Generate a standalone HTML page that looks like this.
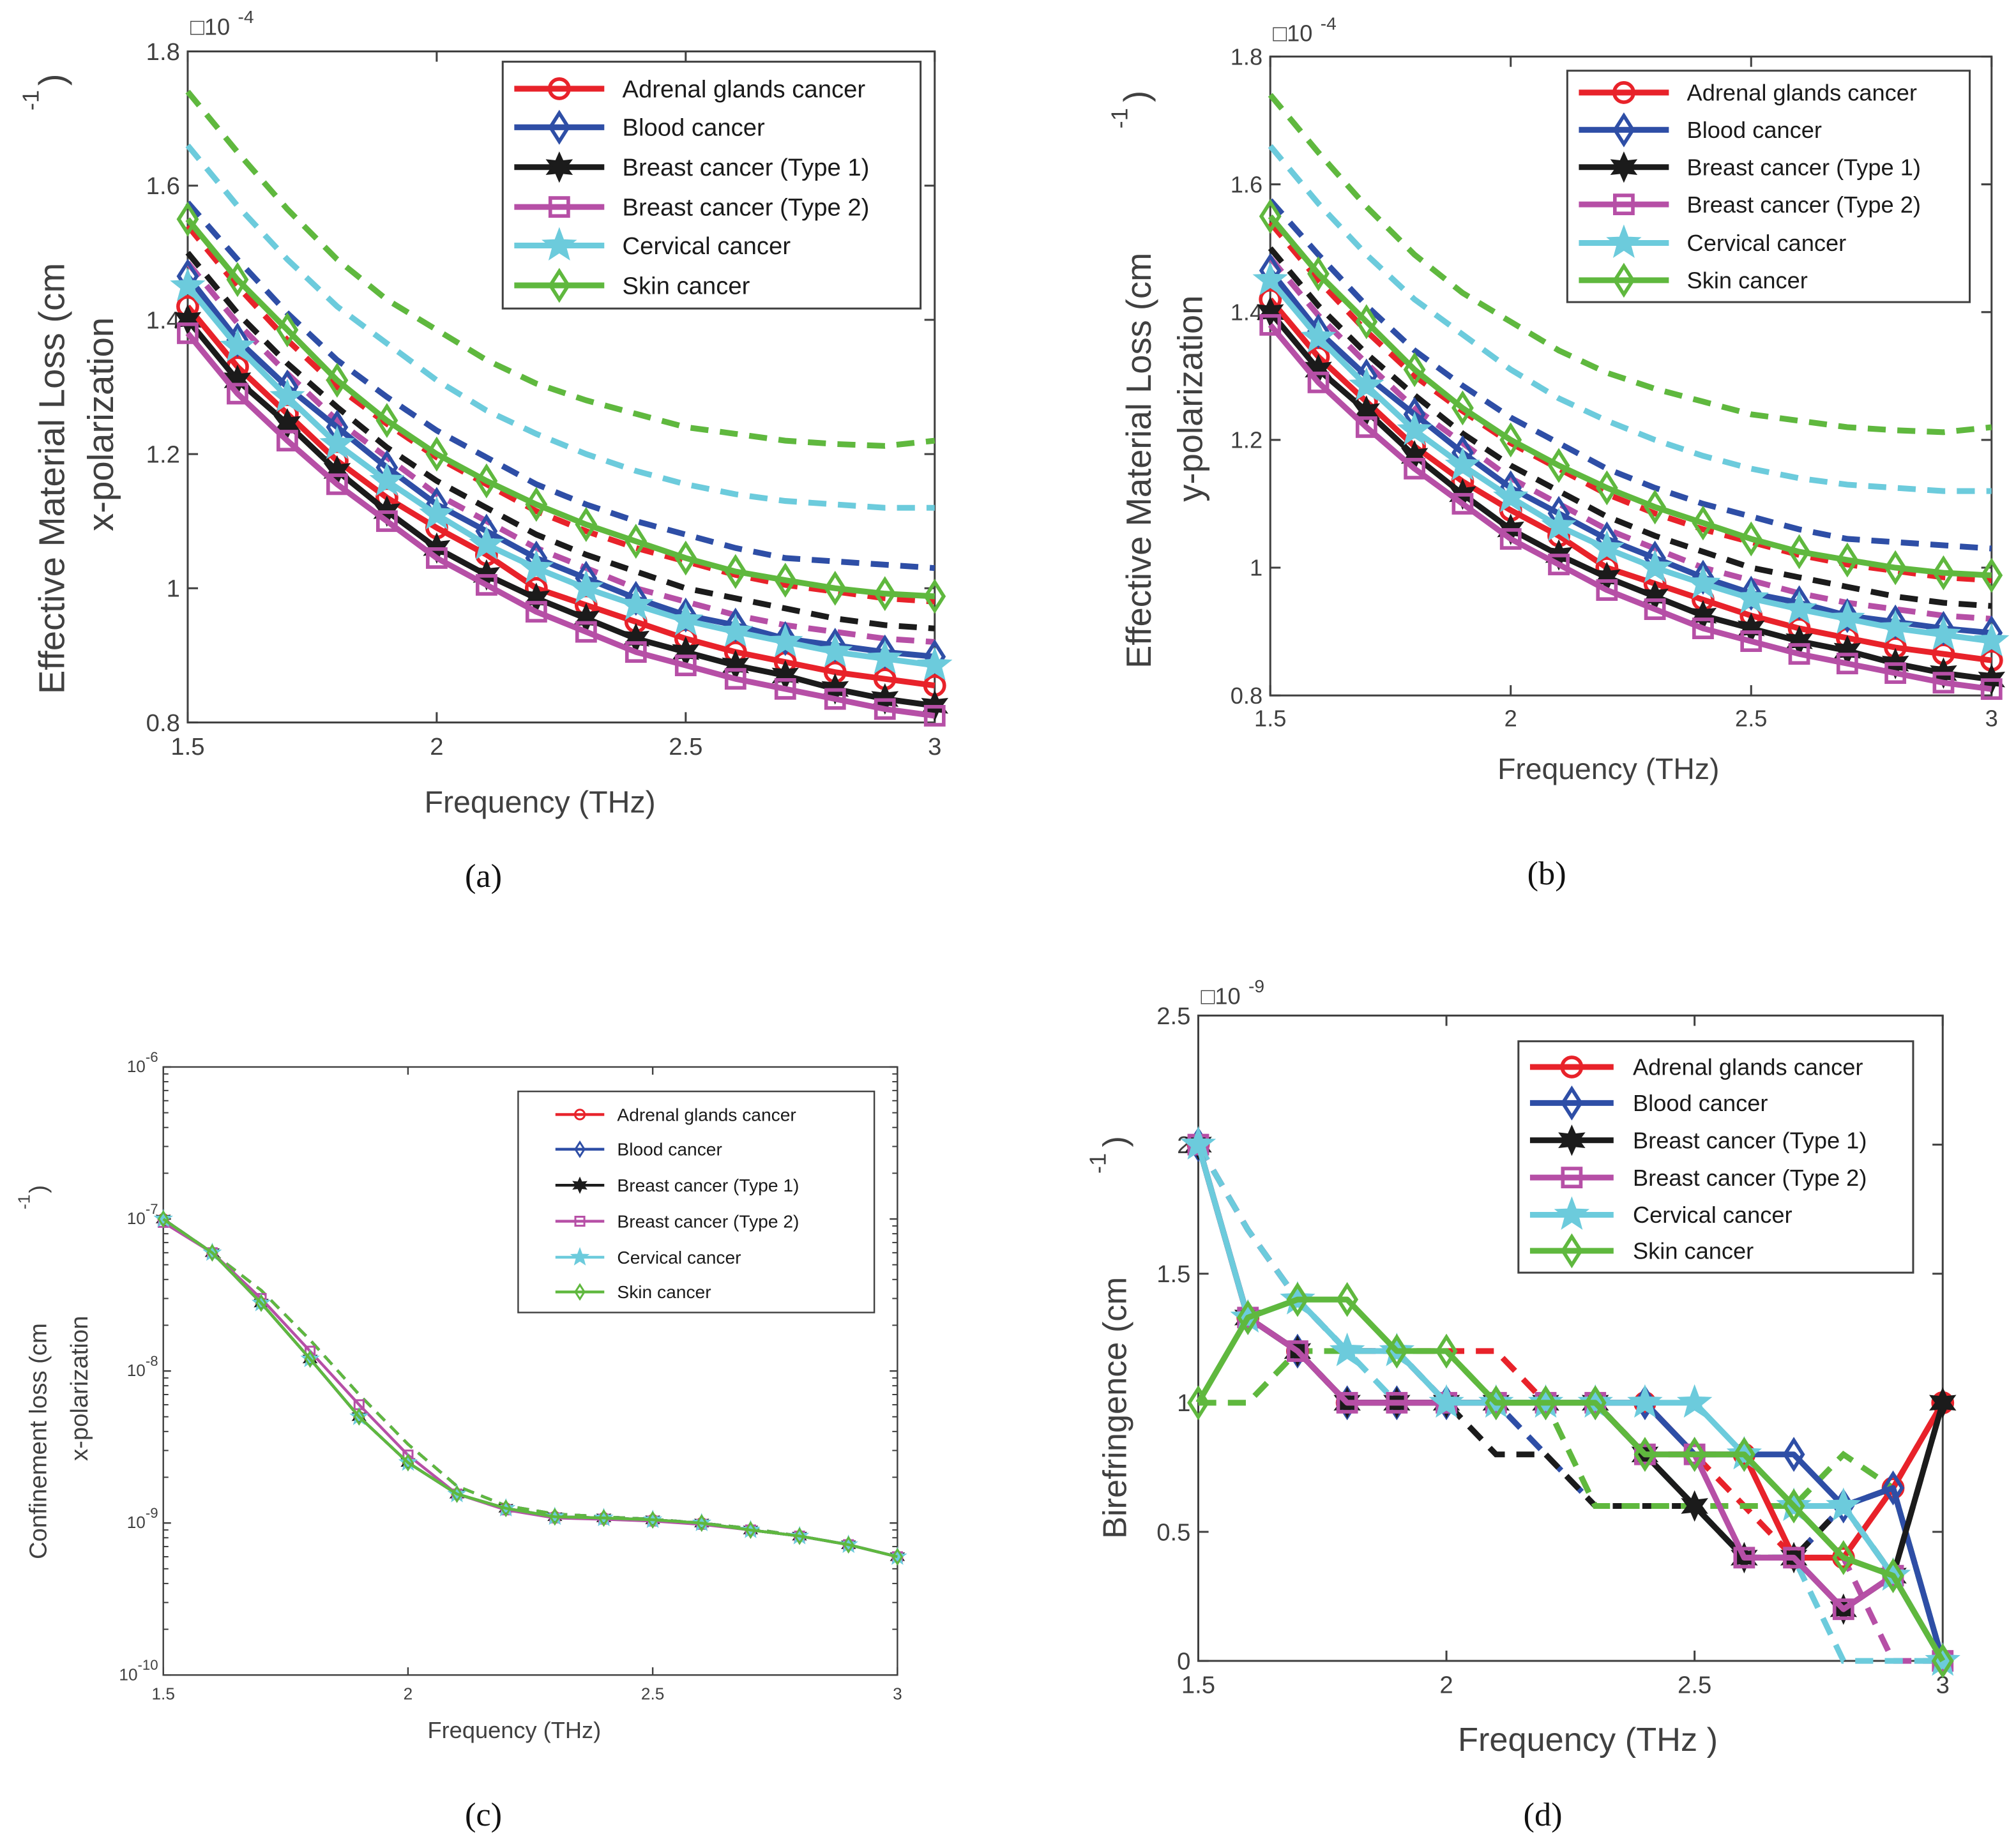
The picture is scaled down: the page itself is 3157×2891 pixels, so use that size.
<!DOCTYPE html>
<html><head><meta charset="utf-8"><style>
html,body{margin:0;padding:0;background:#fff;}
svg{display:block;}
text{font-family:"Liberation Sans",sans-serif;fill:#404040;}
</style></head><body>
<svg id="fig" width="3157" height="2891" viewBox="0 0 1568 1436" preserveAspectRatio="none" xmlns="http://www.w3.org/2000/svg"></svg>
<script>
const freqs=[1.5,1.6,1.7,1.8,1.9,2.0,2.1,2.2,2.3,2.4,2.5,2.6,2.7,2.8,2.9,3.0];
const seriesNames=["Adrenal glands cancer","Blood cancer","Breast cancer (Type 1)","Breast cancer (Type 2)","Cervical cancer","Skin cancer"];
const lossAdrenalSolid=[1.42,1.33,1.26,1.19,1.135,1.09,1.05,1.0,0.975,0.95,0.925,0.905,0.89,0.875,0.865,0.855];
const lossBloodSolid=[1.465,1.37,1.30,1.24,1.18,1.125,1.085,1.045,1.015,0.985,0.96,0.945,0.925,0.915,0.905,0.898];
const lossBreast1Solid=[1.40,1.31,1.245,1.175,1.115,1.06,1.02,0.985,0.955,0.925,0.905,0.885,0.87,0.85,0.835,0.825];
const lossBreast2Solid=[1.38,1.29,1.22,1.155,1.10,1.045,1.005,0.965,0.935,0.905,0.885,0.865,0.85,0.835,0.82,0.81];
const lossCervicalSolid=[1.45,1.36,1.285,1.215,1.16,1.11,1.065,1.03,1.0,0.975,0.952,0.935,0.92,0.905,0.895,0.885];
const lossSkinSolid=[1.55,1.46,1.385,1.31,1.25,1.20,1.16,1.125,1.095,1.07,1.045,1.025,1.012,1.0,0.992,0.988];
const lossAdrenalDash=[1.54,1.45,1.37,1.30,1.245,1.195,1.155,1.115,1.085,1.06,1.04,1.02,1.005,0.995,0.985,0.98];
const lossBloodDash=[1.575,1.49,1.41,1.34,1.285,1.235,1.195,1.155,1.125,1.10,1.08,1.06,1.045,1.04,1.035,1.03];
const lossBreast1Dash=[1.50,1.41,1.335,1.27,1.21,1.16,1.12,1.08,1.05,1.025,1.0,0.985,0.97,0.955,0.945,0.94];
const lossBreast2Dash=[1.485,1.395,1.32,1.25,1.195,1.14,1.1,1.06,1.03,1.0,0.98,0.96,0.945,0.935,0.925,0.92];
const lossCervicalDash=[1.66,1.57,1.49,1.42,1.365,1.31,1.265,1.23,1.2,1.175,1.155,1.14,1.13,1.125,1.12,1.12];
const lossSkinDash=[1.74,1.65,1.565,1.49,1.43,1.385,1.34,1.305,1.28,1.26,1.24,1.23,1.22,1.215,1.212,1.22];
const confSolid=[1e-7,6e-8,2.8e-8,1.2e-8,5e-9,2.5e-9,1.55e-9,1.25e-9,1.1e-9,1.08e-9,1.05e-9,1.0e-9,9e-10,8.2e-10,7.2e-10,6e-10];
const confSolidB2=[9.5e-8,6e-8,3.0e-8,1.35e-8,6e-9,2.8e-9,1.55e-9,1.22e-9,1.08e-9,1.06e-9,1.03e-9,0.98e-9,9e-10,8.2e-10,7.2e-10,6e-10];
const confDash=[1e-7,6e-8,3.4e-8,1.6e-8,7e-9,3.3e-9,1.75e-9,1.3e-9,1.15e-9,1.1e-9,1.06e-9,1.0e-9,9.2e-10,8.2e-10,7.2e-10,6e-10];
const birAdrenalSolid=[2,1.33,1.2,1.0,1.0,1.0,1.0,1.0,1.0,1.0,0.8,0.8,0.4,0.4,0.67,1.0];
const birBloodSolid=[2,1.33,1.2,1.0,1.0,1.0,1.0,1.0,1.0,1.0,0.8,0.8,0.8,0.6,0.67,0];
const birBreast1Solid=[2,1.33,1.2,1.0,1.0,1.0,1.0,1.0,1.0,0.8,0.6,0.4,0.4,0.2,0.33,1.0];
const birBreast2Solid=[2,1.33,1.2,1.0,1.0,1.0,1.0,1.0,1.0,0.8,0.8,0.4,0.4,0.2,0.33,0];
const birCervicalSolid=[2,1.33,1.4,1.2,1.2,1.0,1.0,1.0,1.0,1.0,1.0,0.8,0.6,0.6,0.33,0];
const birSkinSolid=[1.0,1.33,1.4,1.4,1.2,1.2,1.0,1.0,1.0,0.8,0.8,0.8,0.6,0.4,0.33,0];
const birAdrenalDash=[2,1.67,1.4,1.2,1.2,1.2,1.2,1.0,1.0,0.8,0.8,0.6,0.4,0.6,0.67,1.0];
const birBloodDash=[2,1.67,1.4,1.2,1.2,1.0,1.0,0.8,0.6,0.6,0.6,0.4,0.4,0.6,0.67,0];
const birBreast1Dash=[2,1.33,1.2,1.0,1.0,1.0,0.8,0.8,0.6,0.6,0.6,0.4,0.4,0.6,0.33,1.0];
const birBreast2Dash=[2,1.67,1.4,1.2,1.2,1.0,1.0,1.0,1.0,0.8,0.8,0.8,0.4,0.4,0,0];
const birCervicalDash=[2,1.67,1.4,1.2,1.0,1.0,1.0,1.0,1.0,0.8,0.6,0.4,0.4,0,0,0];
const birSkinDash=[1.0,1.0,1.2,1.2,1.2,1.2,1.0,1.0,0.6,0.6,0.6,0.6,0.6,0.8,0.67,0];

const colors=["#e8222a","#2e4ea6","#1b1b1b","#b64fa6","#6ccbdc","#5fb83e"];
const markers=["circle","diamond","hex","square","pent","diamond"];
const svg=document.getElementById('fig');
const NS="http://www.w3.org/2000/svg";
function el(tag,attrs,parent){const e=document.createElementNS(NS,tag);for(const k in attrs)e.setAttribute(k,attrs[k]);(parent||svg).appendChild(e);return e;}
function txt(x,y,s,size,opts,parent){const t=el('text',Object.assign({x:x,y:y,'font-size':size},opts||{}),parent);t.textContent=s;return t;}
function starPts(cx,cy,n,ro,ri){let p=[];for(let i=0;i<2*n;i++){const a=-Math.PI/2+i*Math.PI/n;const r=i%2?ri:ro;p.push((cx+r*Math.cos(a)).toFixed(1)+','+(cy+r*Math.sin(a)).toFixed(1));}return p.join(' ');}
function marker(g,type,x,y,s,c,sw){
  let m;
  if(type==='circle')m=el('circle',{cx:x,cy:y,r:s*0.75,fill:'none',stroke:c,'stroke-width':sw},g);
  else if(type==='diamond')m=el('polygon',{points:`${x},${y-s*1.1} ${x+s*0.7},${y} ${x},${y+s*1.1} ${x-s*0.7},${y}`,fill:'none',stroke:c,'stroke-width':sw},g);
  else if(type==='square')m=el('rect',{x:x-s*0.7,y:y-s*0.7,width:s*1.4,height:s*1.4,fill:'none',stroke:c,'stroke-width':sw},g);
  else if(type==='hex')m=el('polygon',{points:starPts(x,y,6,s*1.1,s*0.55),fill:c,stroke:c,'stroke-width':1},g);
  else m=el('polygon',{points:starPts(x,y,5,s*1.3,s*0.55),fill:c,stroke:c,'stroke-width':1},g);
  
  
}
function panel(cfg){
  const g=el('g',{});
  const X=v=>cfg.x0+(v-1.5)/(1.5)*(cfg.x1-cfg.x0);
  const Y=cfg.log?(v=>cfg.y1-(Math.log10(v)-cfg.ymin)/(cfg.ymax-cfg.ymin)*(cfg.y1-cfg.y0)):(v=>cfg.y1-(v-cfg.ymin)/(cfg.ymax-cfg.ymin)*(cfg.y1-cfg.y0));
  const clip='clip-'+cfg.name;
  const cp=el('clipPath',{id:clip},g);el('rect',{x:cfg.x0-20,y:cfg.y0-20,width:cfg.x1-cfg.x0+40,height:cfg.y1-cfg.y0+40},cp);
  const axes=el('g',{},g);
  el('rect',{x:cfg.x0,y:cfg.y0,width:cfg.x1-cfg.x0,height:cfg.y1-cfg.y0,fill:'none',stroke:'#404040','stroke-width':cfg.axw},axes);
  [1.5,2,2.5,3].forEach(v=>{const x=X(v);
    el('line',{x1:x,y1:cfg.y1,x2:x,y2:cfg.y1-cfg.tl,stroke:'#404040','stroke-width':cfg.axw},axes);
    el('line',{x1:x,y1:cfg.y0,x2:x,y2:cfg.y0+cfg.tl,stroke:'#404040','stroke-width':cfg.axw},axes);
    const t=txt(x,cfg.y1+cfg.tfs+6,String(v),cfg.tfs,{'text-anchor':'middle'},axes);
    
    
  });
  cfg.yticks.forEach((v,i)=>{const y=cfg.log?Y(Math.pow(10,v)):Y(v);
    el('line',{x1:cfg.x0,y1:y,x2:cfg.x0+cfg.tl,y2:y,stroke:'#404040','stroke-width':cfg.axw},axes);
    el('line',{x1:cfg.x1,y1:y,x2:cfg.x1-cfg.tl,y2:y,stroke:'#404040','stroke-width':cfg.axw},axes);
    let t;
    if(cfg.log){t=txt(cfg.x0-6,y+4,'10',cfg.tfs,{'text-anchor':'end'},axes);const s=el('tspan',{dy:-8,'font-size':cfg.tfs*0.85},t);s.textContent=String(v);t.setAttribute('text-anchor','end');t.setAttribute('x',cfg.x0-4);}
    else t=txt(cfg.x0-6,y+cfg.tfs*0.35,cfg.ylabels[i],cfg.tfs,{'text-anchor':'end'},axes);
    
    
  });
  if(cfg.log){for(let d=-10;d<-6;d++){for(let k=2;k<10;k++){const y=Y(k*Math.pow(10,d));
    el('line',{x1:cfg.x0,y1:y,x2:cfg.x0+4,y2:y,stroke:'#404040','stroke-width':1},axes);
    el('line',{x1:cfg.x1,y1:y,x2:cfg.x1-4,y2:y,stroke:'#404040','stroke-width':1},axes);}}}
  const plot=el('g',{'clip-path':`url(#${clip})`,},g);
  cfg.dash.forEach((arr,i)=>{const d=arr.map((v,j)=>(j?'L':'M')+X(freqs[j]).toFixed(1)+','+Y(v).toFixed(1)).join(' ');
    const p=el('path',{d:d,fill:'none',stroke:colors[i],'stroke-width':cfg.lw,'stroke-dasharray':cfg.dsh},plot);
    
    
  });
  cfg.solid.forEach((arr,i)=>{const d=arr.map((v,j)=>(j?'L':'M')+X(freqs[j]).toFixed(1)+','+Y(v).toFixed(1)).join(' ');
    const p=el('path',{d:d,fill:'none',stroke:colors[i],'stroke-width':cfg.lw,'stroke-linejoin':'round'},plot);
    
    
    arr.forEach((v,j)=>marker(plot,markers[i],X(freqs[j]),Y(v),cfg.ms,colors[i],cfg.msw));
  });
  const L=cfg.leg;
  const lg=el('g',{},g);
  el('rect',{x:L.x,y:L.y,width:L.w,height:L.h,fill:'#fff',stroke:'#404040','stroke-width':cfg.axw},lg);
  seriesNames.forEach((n,i)=>{const y=L.ys[i];
    const e=el('g',{},lg);
    
    
    el('line',{x1:L.lx1,y1:y,x2:L.lx2,y2:y,stroke:colors[i],'stroke-width':cfg.lw},e);
    marker(e,markers[i],(L.lx1+L.lx2)/2,y,cfg.lms,colors[i],cfg.msw);
    txt(L.tx,y+L.fs*0.35,n,L.fs,{fill:'#1a1a1a',style:'fill:#1a1a1a'},e);
  });
  cfg.texts.forEach(t=>{const o={'text-anchor':t.a||'middle'};if(t.r)o.transform=`rotate(-90 ${t.x} ${t.y})`;let st='';if(t.f)st+='font-family:'+t.f+';';if(t.c)st+='fill:'+t.c+';';if(st)o.style=st;
    const e=txt(t.x,t.y,t.s,t.fs,o,g);});
  return g;
}
const lossSolid=[lossAdrenalSolid,lossBloodSolid,lossBreast1Solid,lossBreast2Solid,lossCervicalSolid,lossSkinSolid];
const lossDash=[lossAdrenalDash,lossBloodDash,lossBreast1Dash,lossBreast2Dash,lossCervicalDash,lossSkinDash];
const serif='"Liberation Serif",serif';
panel({name:'panel-a',x0:146,x1:727,y0:40,y1:562,ymin:0.8,ymax:1.8,yticks:[0.8,1,1.2,1.4,1.6,1.8],ylabels:['0.8','1','1.2','1.4','1.6','1.8'],
  tl:8,axw:1.5,tfs:19,lw:4.5,dsh:'14,9',ms:10,lms:10,msw:2.8,solid:lossSolid,dash:lossDash,
  leg:{x:391,y:48,w:325,h:192,ys:[69,99,130,161,191,222],lx1:400,lx2:470,tx:484,fs:19},
  texts:[{x:50,y:540,s:'Effective Material Loss (cm',fs:28,r:1,a:'start',n:'y-axis-title'},{x:88,y:330,s:'x-polarization',fs:28,r:1,n:'y-axis-subtitle'},
  {x:30,y:78,s:'-1',fs:18,r:1,n:'y-axis-unit-exponent'},{x:50,y:62,s:')',fs:28,r:1,n:'y-axis-paren'},
  {x:420,y:632,s:'Frequency (THz)',fs:24,n:'x-axis-title'},{x:376,y:690,s:'(a)',fs:26,f:serif,c:'#111',n:'panel-label-a'},
  {x:148,y:27,s:'□10',fs:18,a:'start',n:'y-scale-factor'},{x:185,y:18,s:'-4',fs:14,a:'start',n:'y-scale-exponent'}]});
panel({name:'panel-b',x0:988,x1:1549,y0:44,y1:541,ymin:0.8,ymax:1.8,yticks:[0.8,1,1.2,1.4,1.6,1.8],ylabels:['0.8','1','1.2','1.4','1.6','1.8'],
  tl:8,axw:1.5,tfs:18,lw:4.5,dsh:'14,9',ms:10,lms:10,msw:2.8,solid:lossSolid,dash:lossDash,
  leg:{x:1219,y:55,w:313,h:180,ys:[72,101,130,159,189,218],lx1:1228,lx2:1298,tx:1312,fs:18},
  texts:[{x:895,y:520,s:'Effective Material Loss (cm',fs:27,r:1,a:'start',n:'y-axis-title'},{x:935,y:310,s:'y-polarization',fs:27,r:1,n:'y-axis-subtitle'},
  {x:877,y:92,s:'-1',fs:18,r:1,n:'y-axis-unit-exponent'},{x:893,y:75,s:')',fs:27,r:1,n:'y-axis-paren'},
  {x:1251,y:606,s:'Frequency (THz)',fs:23,n:'x-axis-title'},{x:1203,y:688,s:'(b)',fs:26,f:serif,c:'#111',n:'panel-label-b'},
  {x:990,y:32,s:'□10',fs:18,a:'start',n:'y-scale-factor'},{x:1027,y:23,s:'-4',fs:14,a:'start',n:'y-scale-exponent'}]});
panel({name:'panel-c',x0:127,x1:698,y0:830,y1:1303,log:true,ymin:-10,ymax:-6,yticks:[-10,-9,-8,-7,-6],
  tl:6,axw:1.2,tfs:13,lw:2.2,dsh:'9,6',ms:5,lms:5,msw:1.5,solid:[confSolid,confSolid,confSolid,confSolidB2,confSolid,confSolid],dash:[confDash,confDash,confDash,confDash,confDash,confDash],
  leg:{x:403,y:849,w:277,h:172,ys:[867,894,922,950,978,1005],lx1:432,lx2:470,tx:480,fs:14},
  texts:[{x:36,y:1213,s:'Confinement loss (cm',fs:19,r:1,a:'start',n:'y-axis-title'},{x:68,y:1080,s:'x-polarization',fs:19,r:1,n:'y-axis-subtitle'},
  {x:23,y:935,s:'-1',fs:13,r:1,n:'y-axis-unit-exponent'},{x:36,y:925,s:')',fs:19,r:1,n:'y-axis-paren'},
  {x:400,y:1352,s:'Frequency (THz)',fs:18,n:'x-axis-title'},{x:376,y:1420,s:'(c)',fs:26,f:serif,c:'#111',n:'panel-label-c'}]});
panel({name:'panel-d',x0:932,x1:1511,y0:790,y1:1292,ymin:0,ymax:2.5,yticks:[0,0.5,1,1.5,2,2.5],ylabels:['0','0.5','1','1.5','2','2.5'],
  tl:8,axw:1.5,tfs:19,lw:4.5,dsh:'14,9',ms:10,lms:10,msw:2.8,
  solid:[birAdrenalSolid,birBloodSolid,birBreast1Solid,birBreast2Solid,birCervicalSolid,birSkinSolid],
  dash:[birAdrenalDash,birBloodDash,birBreast1Dash,birBreast2Dash,birCervicalDash,birSkinDash],
  leg:{x:1181,y:810,w:307,h:180,ys:[830,858,887,916,945,973],lx1:1190,lx2:1255,tx:1270,fs:18},
  texts:[{x:876,y:1197,s:'Birefringence (cm',fs:26,r:1,a:'start',n:'y-axis-title'},
  {x:860,y:905,s:'-1',fs:18,r:1,n:'y-axis-unit-exponent'},{x:876,y:888,s:')',fs:26,r:1,n:'y-axis-paren'},
  {x:1235,y:1362,s:'Frequency (THz )',fs:26,n:'x-axis-title'},{x:1200,y:1420,s:'(d)',fs:26,f:serif,c:'#111',n:'panel-label-d'},
  {x:934,y:781,s:'□10',fs:18,a:'start',n:'y-scale-factor'},{x:971,y:772,s:'-9',fs:14,a:'start',n:'y-scale-exponent'}]});
</script>
</body></html>
